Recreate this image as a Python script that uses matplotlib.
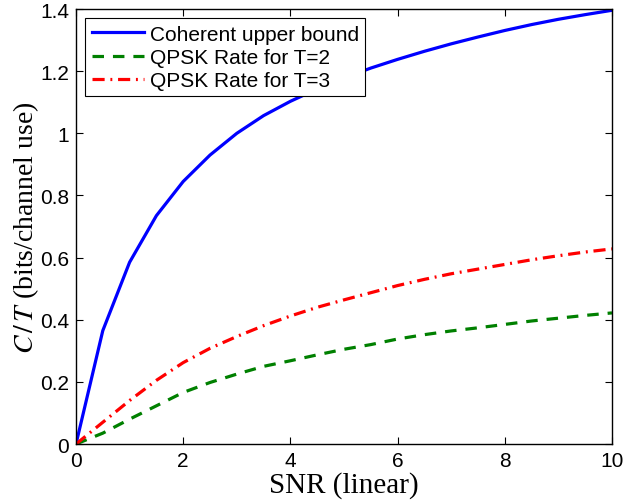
import numpy as np
import matplotlib
matplotlib.use("Agg")
import matplotlib.pyplot as plt
from matplotlib.ticker import FuncFormatter

# valori (SNR a passi di 0.5)
snr = [0, 0.5, 1, 1.5, 2, 2.5, 3, 3.5, 4, 4.5, 5, 5.5, 6, 6.5, 7, 7.5, 8, 8.5, 9, 9.5, 10]
coherent = [0, 0.365, 0.585, 0.735, 0.845, 0.93, 1.0, 1.057, 1.103, 1.143, 1.178,
            1.21, 1.238, 1.264, 1.288, 1.31, 1.331, 1.35, 1.367, 1.382, 1.396]
qpsk_t2 = [0, 0.035, 0.08, 0.123, 0.166, 0.198, 0.225, 0.25, 0.268, 0.287, 0.305,
           0.32, 0.338, 0.352, 0.364, 0.374, 0.385, 0.396, 0.405, 0.414, 0.422]
qpsk_t3 = [0, 0.07, 0.14, 0.205, 0.262, 0.308, 0.346, 0.381, 0.412, 0.44, 0.464,
           0.487, 0.51, 0.53, 0.548, 0.563, 0.578, 0.593, 0.606, 0.618, 0.628]

labels = ["Coherent upper bound", "QPSK Rate for T=2", "QPSK Rate for T=3"]

plt.rcParams["font.family"] = ["Liberation Sans", "DejaVu Sans"]
plt.rcParams["mathtext.fontset"] = "stix"

fig = plt.figure(figsize=(6.25, 5.02), dpi=100)
ax = fig.add_axes([0.1216, 0.1135, 0.8576, 0.8665])

lw = 2.3
ax.plot(snr, coherent, color="blue", linewidth=lw, label=labels[0])
ax.plot(snr, qpsk_t2, color=(0, 0.5, 0), linewidth=lw, dashes=(3.6, 2.8), label=labels[1])
ax.plot(snr, qpsk_t3, color="red", linewidth=lw, dashes=(3.8, 1.8, 0.6, 1.8), label=labels[2])

ax.set_xlim(0, 10)
ax.set_ylim(0, 1.4)
ax.set_xticks(np.arange(0, 11, 2))
ax.set_yticks(np.arange(0, 1.41, 0.2))
fmt = FuncFormatter(lambda v, p: "%g" % round(v, 2))
ax.xaxis.set_major_formatter(fmt)
ax.yaxis.set_major_formatter(fmt)
ax.tick_params(direction="in", top=True, right=True, length=5, width=0.8,
               labelsize=15, pad=5)
for s in ax.spines.values():
    s.set_linewidth(1.0)

serif = ["Liberation Serif", "DejaVu Serif"]
ax.set_xlabel("SNR (linear)", fontsize=21, family=serif, labelpad=1)
ax.set_ylabel("$C\\,/\\,T$ (bits/channel use)", fontsize=20, family=serif, labelpad=-1)

leg = ax.legend(loc="upper left", fontsize=15, handlelength=2.5, handletextpad=0.3,
                labelspacing=0.2, borderaxespad=0.45, borderpad=0.3, fancybox=False,
                framealpha=1, edgecolor="black")
leg.get_frame().set_linewidth(0.8)

fig.savefig("out.png", dpi=100)
